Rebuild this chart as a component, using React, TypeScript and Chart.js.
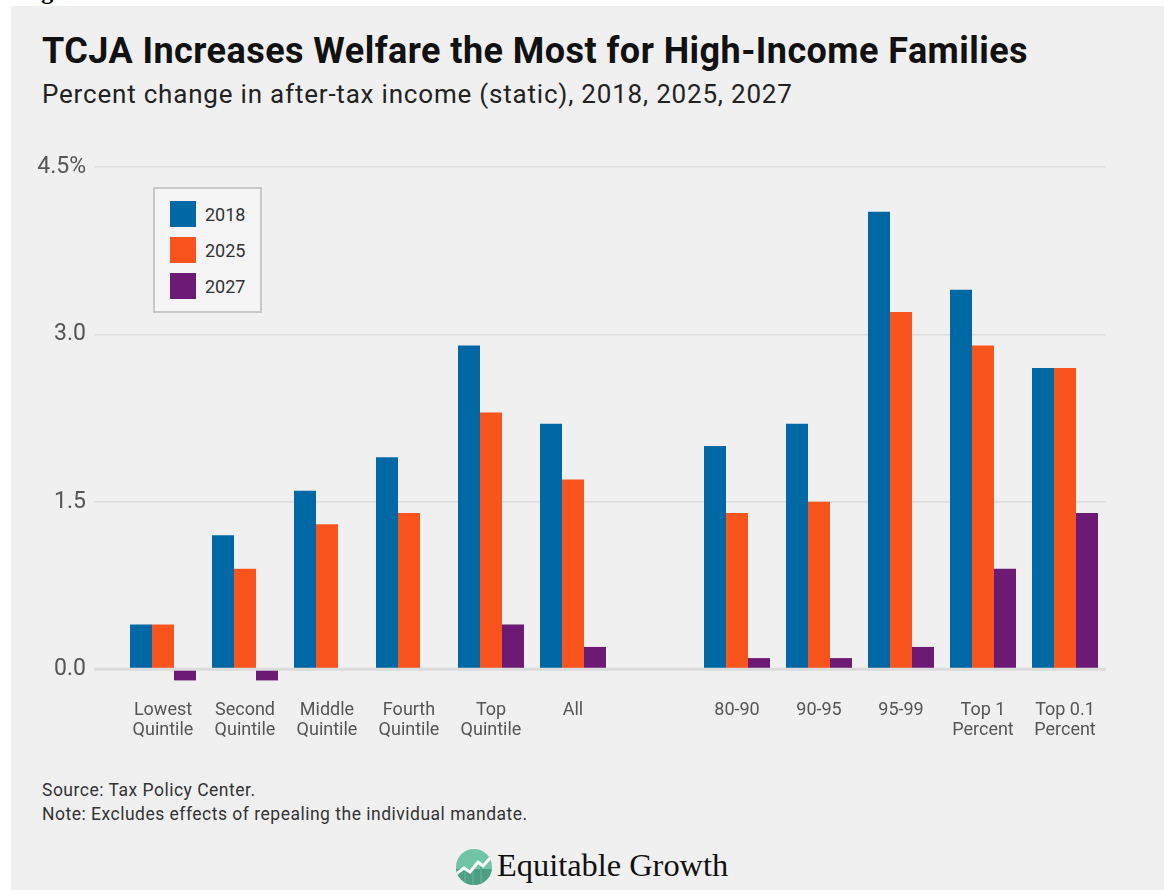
import React, { useEffect, useRef } from 'react';
import { Chart, registerables } from 'chart.js';

Chart.register(...registerables);

const categories: (string | string[])[] = [
  ['Lowest', 'Quintile'],
  ['Second', 'Quintile'],
  ['Middle', 'Quintile'],
  ['Fourth', 'Quintile'],
  ['Top', 'Quintile'],
  'All',
  '',
  '80-90',
  '90-95',
  '95-99',
  ['Top 1', 'Percent'],
  ['Top 0.1', 'Percent'],
];
const series2018 = [0.4, 1.2, 1.6, 1.9, 2.9, 2.2, null, 2.0, 2.2, 4.1, 3.4, 2.7];
const series2025 = [0.4, 0.9, 1.3, 1.4, 2.3, 1.7, null, 1.4, 1.5, 3.2, 2.9, 2.7];
const series2027 = [-0.1, -0.1, 0, 0, 0.4, 0.2, null, 0.1, 0.1, 0.2, 0.9, 1.4];
const seriesNames = ['2018', '2025', '2027'];
const seriesColors = ['#0168a6', '#f9531e', '#6d1a74'];
const yTicks = [0, 1.5, 3.0, 4.5];
const yTickLabels = ['0.0', '1.5', '3.0', '4.5%'];

const FONT = 'Roboto, "Noto Sans", sans-serif';

const zeroLinePlugin = {
  id: 'zeroLine',
  afterDatasetsDraw(chart: any) {
    const y = chart.scales.y.getPixelForValue(0);
    const { left, right } = chart.chartArea;
    const ctx = chart.ctx;
    ctx.save();
    ctx.strokeStyle = '#dcdcdc';
    ctx.lineWidth = 3;
    ctx.beginPath();
    ctx.moveTo(left - 28, y);
    ctx.lineTo(right, y);
    ctx.stroke();
    ctx.restore();
  },
};

function BarChart() {
  const ref = useRef<HTMLCanvasElement | null>(null);
  useEffect(() => {
    if (!ref.current) return;
    const all = [series2018, series2025, series2027];
    const chart = new Chart(ref.current, {
      type: 'bar',
      data: {
        labels: categories as any,
        datasets: all.map((d, i) => ({
          label: seriesNames[i],
          data: d as any,
          backgroundColor: seriesColors[i],
          borderWidth: 0,
          categoryPercentage: 0.805,
          barPercentage: 1,
        })),
      },
      options: {
        animation: false,
        responsive: true,
        maintainAspectRatio: false,
        layout: { padding: { top: 27, right: 58, left: 0, bottom: 0 } },
        plugins: {
          legend: { display: false },
          tooltip: { enabled: false },
          title: { display: false },
        },
        scales: {
          x: {
            grid: { display: false, drawTicks: false },
            border: { display: false },
            ticks: {
              color: '#555555',
              font: { family: FONT, size: 18, lineHeight: 20 / 18 },
              padding: 14,
              maxRotation: 0,
              autoSkip: false,
            },
            afterFit: (s: any) => {
              s.height = 74;
            },
          },
          y: {
            min: -0.15,
            max: 4.5,
            afterBuildTicks: (s: any) => {
              s.ticks = yTicks.map((v) => ({ value: v }));
            },
            ticks: {
              callback: (v: any) => {
                const idx = yTicks.indexOf(Number(v));
                return idx >= 0 ? yTickLabels[idx] : '';
              },
              color: '#555555',
              font: { family: FONT, size: 23 },
              padding: 8,
            },
            grid: { color: '#dcdcdc', lineWidth: 1.5, tickLength: 28, drawTicks: true },
            border: { display: false },
            afterFit: (s: any) => {
              s.width = 122;
            },
          },
        },
      },
      plugins: [zeroLinePlugin],
    });
    return () => chart.destroy();
  }, []);
  return <canvas ref={ref} />;
}

export default function App() {
  return (
    <div
      style={{
        position: 'fixed',
        left: 0,
        top: 0,
        width: 1164,
        height: 890,
        background: '#ffffff',
        overflow: 'hidden',
        fontFamily: FONT,
      }}
    >
      <div
        style={{
          position: 'absolute',
          left: 20,
          top: -21,
          fontFamily: '"Liberation Serif", serif',
          fontWeight: 700,
          fontSize: 24,
          lineHeight: '24px',
          color: '#000',
          whiteSpace: 'nowrap',
        }}
      >
        Figure
      </div>
      <div
        style={{
          position: 'absolute',
          left: 11,
          top: 6,
          width: 1153,
          height: 884,
          background: '#f0f0f0',
        }}
      />
      <div
        style={{
          position: 'absolute',
          left: 42,
          top: 32.7,
          fontSize: 36,
          lineHeight: '36px',
          fontWeight: 700,
          letterSpacing: 0.45,
          color: '#111111',
          whiteSpace: 'nowrap',
        }}
      >
        TCJA Increases Welfare the Most for High-Income Families
      </div>
      <div
        style={{
          position: 'absolute',
          left: 42,
          top: 81,
          fontSize: 26,
          lineHeight: '26px',
          letterSpacing: 0.8,
          color: '#222222',
          whiteSpace: 'nowrap',
        }}
      >
        Percent change in after-tax income (static), 2018, 2025, 2027
      </div>
      <div style={{ position: 'absolute', left: 0, top: 140, width: 1164, height: 620 }}>
        <BarChart />
      </div>
      <div
        style={{
          position: 'absolute',
          left: 153,
          top: 187,
          width: 105,
          height: 122,
          background: '#f5f5f5',
          border: '2px solid #c8c8c8',
        }}
      >
        {seriesNames.map((n, i) => (
          <div
            key={n}
            style={{
              position: 'absolute',
              left: 15,
              top: 12 + i * 36,
              height: 26,
              display: 'flex',
              alignItems: 'center',
            }}
          >
            <div style={{ width: 26, height: 26, background: seriesColors[i] }} />
            <div style={{ marginLeft: 9, fontSize: 18, color: '#333333' }}>{n}</div>
          </div>
        ))}
      </div>
      <div
        style={{
          position: 'absolute',
          left: 42,
          top: 778,
          fontSize: 17.5,
          lineHeight: '24px',
          letterSpacing: 0.5,
          color: '#333333',
          whiteSpace: 'nowrap',
        }}
      >
        <div>Source: Tax Policy Center.</div>
        <div>Note: Excludes effects of repealing the individual mandate.</div>
      </div>
      <svg
        style={{ position: 'absolute', left: 456, top: 849 }}
        width={36}
        height={36}
        viewBox="0 0 36 36"
      >
        <defs>
          <clipPath id="lc">
            <circle cx={18} cy={18} r={18} />
          </clipPath>
        </defs>
        <g clipPath="url(#lc)">
          <rect x={0} y={0} width={36} height={36} fill="#6fc5a6" />
          <rect x={0} y={20} width={36} height={16} fill="#4f9d84" />
          <rect x={8} y={20} width={2} height={16} fill="#5aab90" />
          <rect x={16} y={18} width={2} height={18} fill="#5aab90" />
          <rect x={24} y={14} width={2} height={22} fill="#5aab90" />
          <polyline
            points="0,25 8,19 14,23 22,13 27,17 36,7"
            fill="none"
            stroke="#ffffff"
            strokeWidth={3}
            strokeLinejoin="miter"
          />
        </g>
      </svg>
      <div
        style={{
          position: 'absolute',
          left: 497,
          top: 849,
          fontFamily: '"Liberation Serif", serif',
          fontSize: 32.4,
          lineHeight: '32px',
          color: '#111111',
          whiteSpace: 'nowrap',
        }}
      >
        Equitable Growth
      </div>
    </div>
  );
}
